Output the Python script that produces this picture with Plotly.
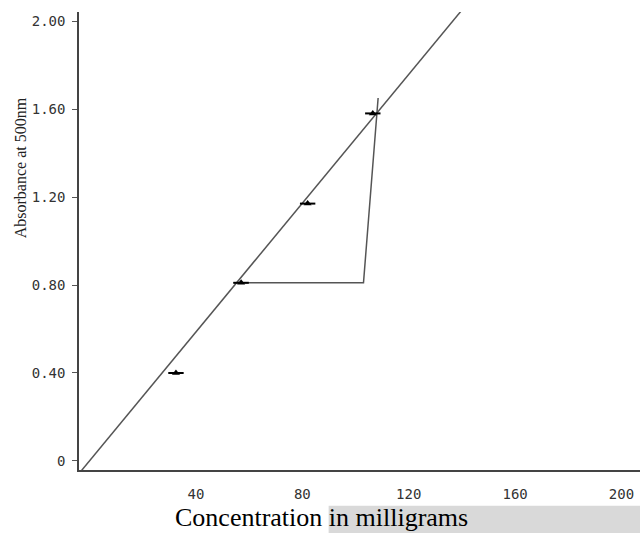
import plotly.graph_objects as go

# Data
conc = [32.5, 57, 82, 106.5]          # mg
absorb = [0.40, 0.81, 1.17, 1.58]     # absorbance at 500 nm

std_x = [-4, 140]                      # standard curve endpoints
std_y = [-0.058, 2.05]

guide_x = [54, 103, 108.5]             # reading construction lines
guide_y = [0.81, 0.81, 1.65]

y_ticks = [0, 0.4, 0.8, 1.2, 1.6, 2.0]
y_ticktext = ["0", "0.40", "0.80", "1.20", "1.60", "2.00"]
x_ticks = [40, 80, 120, 160, 200]
x_ticktext = ["40", "80", "120", "160", "200"]

fig = go.Figure()

fig.add_trace(go.Scatter(x=std_x, y=std_y, mode="lines",
                         line=dict(color="#555555", width=1.5),
                         hoverinfo="skip", showlegend=False))
fig.add_trace(go.Scatter(x=guide_x, y=guide_y, mode="lines",
                         line=dict(color="#555555", width=1.5),
                         hoverinfo="skip", showlegend=False))
fig.add_trace(go.Scatter(x=conc, y=absorb, mode="markers",
                         marker=dict(symbol="line-ew", size=11,
                                     line=dict(color="black", width=2)),
                         showlegend=False))
fig.add_trace(go.Scatter(x=conc, y=absorb, mode="markers",
                         marker=dict(symbol="triangle-up", size=7, color="black"),
                         showlegend=False))

fig.add_shape(type="rect", xref="paper", yref="paper",
              x0=0.445, x1=1.02, y0=-0.078, y1=-0.2,
              fillcolor="#d9d9d9", line=dict(width=0), layer="below")

fig.update_layout(
    width=640, height=533,
    margin=dict(l=79, r=0, t=12, b=63),
    plot_bgcolor="white", paper_bgcolor="white",
    xaxis=dict(range=[-3.95, 206.95], tickvals=x_ticks, ticktext=x_ticktext,
               showgrid=False, zeroline=False, showline=True,
               linecolor="#444444", linewidth=1.5, ticks="",
               ticklabelstandoff=10,
               tickfont=dict(family="DejaVu Sans Mono", size=14, color="#333333"),
               title=None),
    yaxis=dict(range=[-0.041, 2.041], tickvals=y_ticks, ticktext=y_ticktext,
               showgrid=False, zeroline=False, showline=True,
               linecolor="#444444", linewidth=1.5, ticks="outside",
               ticklen=5, tickcolor="#555555", tickwidth=1,
               ticklabelstandoff=4,
               tickfont=dict(family="DejaVu Sans Mono", size=14, color="#333333"),
               title=None),
    annotations=[
        dict(text="Absorbance at 500nm", xref="paper", yref="paper",
             x=-0.105, y=0.659, xanchor="center", yanchor="middle",
             textangle=-90, showarrow=False,
             font=dict(family="Liberation Serif", size=16, color="#222222")),
        dict(text="Concentration in milligrams", xref="paper", yref="paper",
             x=0.433, y=-0.104, xanchor="center", yanchor="middle",
             showarrow=False,
             font=dict(family="Liberation Serif", size=26, color="black")),
    ],
)

fig.write_html("out.html",
               config={"displayModeBar": False},
               post_script="document.body.style.margin='0';"
                           "document.body.style.overflow='hidden';")
